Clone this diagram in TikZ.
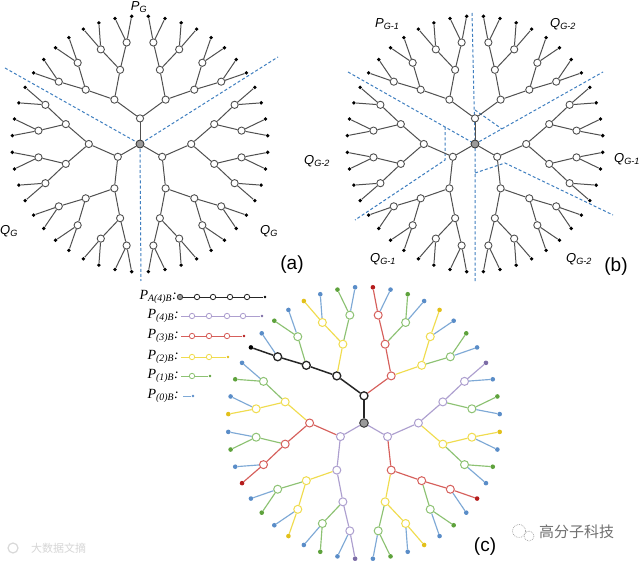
\documentclass[tikz,border=0pt]{standalone}
\usepackage{fontspec}
\setmainfont{Liberation Serif}
\setsansfont{Liberation Sans}
\newfontfamily\cjkfont{Noto Sans CJK SC}
\usetikzlibrary{calc}
\definecolor{treeline}{HTML}{505050}
\definecolor{coregray}{HTML}{9A9A9A}
\definecolor{coreedge}{HTML}{3C3C3C}
\definecolor{dashblue}{HTML}{3F7FC0}
\definecolor{lnA}{HTML}{262626}\definecolor{dtA}{HTML}{000000}
\definecolor{ln4}{HTML}{AD9FCF}\definecolor{dt4}{HTML}{7C6CA6}
\definecolor{ln3}{HTML}{D65F5B}\definecolor{dt3}{HTML}{B51C1C}
\definecolor{ln2}{HTML}{F0DC4E}\definecolor{dt2}{HTML}{E2C01A}
\definecolor{ln1}{HTML}{8DC273}\definecolor{dt1}{HTML}{5EA23C}
\definecolor{ln0}{HTML}{7EA9D6}\definecolor{dt0}{HTML}{5A8DC8}
\definecolor{wmgray}{HTML}{707070}
\tikzset{
  treeedge/.style={draw=treeline, line width=1pt},
  opennode/.style={circle, draw=treeline, fill=white, inner sep=0pt, minimum size=7.2pt, line width=0.9pt},
  leafnode/.style={circle, fill=black, inner sep=0pt, minimum size=3.8pt},
  corenode/.style={circle, draw=coreedge, fill=coregray, inner sep=0pt, minimum size=8pt, line width=0.9pt},
  ccore/.style={circle, draw=coreedge, fill=coregray, inner sep=0pt, minimum size=8.6pt, line width=1pt},
  ewA/.style={line width=1.5pt},
  owA/.style={line width=1.3pt},
  copen/.style={circle, draw=ln#1, fill=white, inner sep=0pt, minimum size=8pt, line width=1pt, ow#1/.try},
  cleaf/.style={circle, fill=dt#1, inner sep=0pt, minimum size=4.6pt},
  cedge/.style={draw=ln#1, line width=1.15pt, ew#1/.try},
  lgopen/.style={circle, draw=ln#1, fill=white, inner sep=0pt, minimum size=5.4pt, line width=0.8pt},
  lgcore/.style={circle, draw=coreedge, fill=coregray, inner sep=0pt, minimum size=5.4pt, line width=0.8pt},
  lgdot/.style={circle, fill=dt#1, inner sep=0pt, minimum size=2.8pt},
  lgedge/.style={draw=ln#1, line width=0.9pt},
  lgtext/.style={font=\itshape\fontsize{14}{14}\selectfont, inner sep=0pt, anchor=east},
  bound/.style={draw=dashblue, dash pattern=on 3pt off 2.2pt, line width=1pt},
  lbl/.style={font=\sffamily\itshape\fontsize{13}{13}\selectfont, inner sep=0pt},
  panel/.style={font=\sffamily\fontsize{19}{19}\selectfont, inner sep=0pt},
}
\def\tzarr{{9,0,1,0,2,0,1,0,3,0,1,0,2,0,1,0}}
\newcommand\dendro[5]{%
  \ifnum#5=1 \node[ccore] (#1-core) at (#2,#3) {};\else\node[corenode] (#1-core) at (#2,#3) {};\fi
  \foreach \br in {0,1,2}{%
    \foreach \lv in {1,...,5}{%
      \pgfmathtruncatemacro\mx{2^(\lv-1)-1}%
      \pgfmathtruncatemacro\nn{2^(5-\lv)}%
      \foreach \ix in {0,...,\mx}{%
        \pgfmathsetmacro\ang{90+120*\br+56.25-7.5*(\ix*\nn+(\nn-1)/2)}%
        \pgfmathsetmacro\rad{\lv*#4}%
        \pgfmathtruncatemacro\tz{\tzarr[\ix]}%
        \pgfmathtruncatemacro\plen{min(4,5-\lv+\tz)}%
        \ifnum\lv=1 \def\parnode{#1-core}\else
          \pgfmathtruncatemacro\pk{\lv-1}%
          \pgfmathtruncatemacro\pidx{floor(\ix/2)}%
          \edef\parnode{#1-\br-\pk-\pidx}\fi
        \ifnum#5=1
          \edef\pcol{\ifnum\plen=4 \ifnum\br=0 A\else 4\fi\else\plen\fi}%
          \ifnum\lv=5
            \node[cleaf=\pcol] (#1-\br-\lv-\ix) at ($(#1-core.center)+(\ang:\rad pt)$) {};%
          \else
            \node[copen=\pcol] (#1-\br-\lv-\ix) at ($(#1-core.center)+(\ang:\rad pt)$) {};%
          \fi
          \draw[cedge=\pcol] (\parnode) -- (#1-\br-\lv-\ix);%
        \else
          \ifnum\lv=5
            \node[leafnode] (#1-\br-\lv-\ix) at ($(#1-core.center)+(\ang:\rad pt)$) {};%
          \else
            \node[opennode] (#1-\br-\lv-\ix) at ($(#1-core.center)+(\ang:\rad pt)$) {};%
          \fi
          \draw[treeedge] (\parnode) -- (#1-\br-\lv-\ix);%
        \fi
      }}}}
\begin{document}
\begin{tikzpicture}[x=1pt,y=-1pt]
\fill[white] (0,0) rectangle (640,561);
\useasboundingbox (0,0) rectangle (640,561);
% ---------- panel (a) boundaries
\coordinate (ac) at (140,144);
\coordinate (a-ul) at (5,68);
\coordinate (a-ur) at (278,57);
\coordinate (a-bt) at (141,281);
\draw[bound] (a-ul) -- (ac) -- (a-ur);
\draw[bound] (ac) -- (a-bt);
% ---------- panel (b) boundaries
\coordinate (bc) at (475,144);
\coordinate (b-top) at (472,13);
\coordinate (b-bot) at (475,282);
\coordinate (b-ul) at (348,72);
\coordinate (b-lk1) at (445,127);
\coordinate (b-lk2) at (445,160);
\coordinate (b-ll) at (355,220);
\coordinate (b-ur) at (603,72);
\coordinate (b-uk1) at (475,110);
\coordinate (b-uk2) at (502,129);
\coordinate (b-rk1) at (475,173);
\coordinate (b-rk2) at (505,163);
\coordinate (b-lr) at (613,215);
\draw[bound] (b-top) -- (bc) -- (b-bot);
\draw[bound] (b-ul) -- (bc) -- (b-ur);
\draw[bound] (b-lk1) -- (b-lk2) -- (b-ll);
\draw[bound] (b-uk1) -- (b-uk2);
\draw[bound] (b-rk1) -- (b-rk2) -- (b-lr);
% ---------- trees
\dendro{ta}{140}{144}{25.6}{0}
\dendro{tb}{475}{144}{25.6}{0}
\dendro{tc}{364}{423}{27.2}{1}
% ---------- labels (a)
\node[lbl] (lab-pg) at (139,7) {P\textsubscript{G}};
\node[lbl, anchor=west] (lab-qg1) at (0,231) {Q\textsubscript{G}};
\node[lbl, anchor=west] (lab-qg2) at (260,231) {Q\textsubscript{G}};
\node[panel] (lab-a) at (292,265) {(a)};
% ---------- labels (b)
\node[lbl, anchor=west] (lab-pg1) at (375,24) {P\textsubscript{G-1}};
\node[lbl, anchor=west] (lab-qb1) at (550,24) {Q\textsubscript{G-2}};
\node[lbl, anchor=west] (lab-qb2) at (304,161) {Q\textsubscript{G-2}};
\node[lbl, anchor=west] (lab-qb3) at (614,159) {Q\textsubscript{G-1}};
\node[lbl, anchor=west] (lab-qb4) at (370,259) {Q\textsubscript{G-1}};
\node[lbl, anchor=west] (lab-qb5) at (566,259) {Q\textsubscript{G-2}};
\node[panel] (lab-b) at (616,267) {(b)};
% ---------- legend (c)
\node[lgtext] (lg-t1) at (177,297) {P\textsubscript{A(4)B}:};
\node[lgcore] (lg-1-0) at (180,297) {};
\node[lgopen=A] (lg-1-1) at (197,297) {};
\node[lgopen=A] (lg-1-2) at (213,297) {};
\node[lgopen=A] (lg-1-3) at (230,297) {};
\node[lgopen=A] (lg-1-4) at (247,297) {};
\node[lgdot=A] (lg-1-5) at (265,297) {};
\draw[lgedge=A] (lg-1-0) -- (lg-1-1) -- (lg-1-2) -- (lg-1-3) -- (lg-1-4) -- (lg-1-5);
\node[lgtext] (lg-t2) at (179,316) {P\textsubscript{(4)B}:};
\coordinate (lg-2-0) at (181,316);
\node[lgopen=4] (lg-2-1) at (192,316) {};
\node[lgopen=4] (lg-2-2) at (209,316) {};
\node[lgopen=4] (lg-2-3) at (227,316) {};
\node[lgopen=4] (lg-2-4) at (243,316) {};
\node[lgdot=4] (lg-2-5) at (262,316) {};
\draw[lgedge=4] (lg-2-0) -- (lg-2-1) -- (lg-2-2) -- (lg-2-3) -- (lg-2-4) -- (lg-2-5);
\node[lgtext] (lg-t3) at (179,336) {P\textsubscript{(3)B}:};
\coordinate (lg-3-0) at (181,336);
\node[lgopen=3] (lg-3-1) at (192,336) {};
\node[lgopen=3] (lg-3-2) at (209,336) {};
\node[lgopen=3] (lg-3-3) at (227,336) {};
\node[lgdot=3] (lg-3-4) at (244,336) {};
\draw[lgedge=3] (lg-3-0) -- (lg-3-1) -- (lg-3-2) -- (lg-3-3) -- (lg-3-4);
\node[lgtext] (lg-t4) at (179,357) {P\textsubscript{(2)B}:};
\coordinate (lg-4-0) at (181,357);
\node[lgopen=2] (lg-4-1) at (192,357) {};
\node[lgopen=2] (lg-4-2) at (209,357) {};
\node[lgdot=2] (lg-4-3) at (228,357) {};
\draw[lgedge=2] (lg-4-0) -- (lg-4-1) -- (lg-4-2) -- (lg-4-3);
\node[lgtext] (lg-t5) at (179,376) {P\textsubscript{(1)B}:};
\coordinate (lg-5-0) at (181,376);
\node[lgopen=1] (lg-5-1) at (192,376) {};
\node[lgdot=1] (lg-5-2) at (210,376) {};
\draw[lgedge=1] (lg-5-0) -- (lg-5-1) -- (lg-5-2);
\node[lgtext] (lg-t6) at (179,396) {P\textsubscript{(0)B}:};
\coordinate (lg-6-0) at (183,396);
\node[lgdot=0] (lg-6-1) at (193,396) {};
\draw[lgedge=0] (lg-6-0) -- (lg-6-1);
\node[panel] (lab-c) at (485,547) {(c)};
% ---------- watermarks
\draw[wmgray!70, dash pattern=on 0.8pt off 1pt, line width=0.6pt] (519,531) circle (6.5);
\draw[wmgray!70, dash pattern=on 0.8pt off 1pt, line width=0.6pt] (529,536) circle (5);
\node[font=\cjkfont\fontsize{15}{15}\selectfont, text=wmgray, anchor=west, inner sep=0pt] (wm1) at (539,532) {高分子科技};
\draw[black!15, line width=1.2pt] (13,548) circle (5);
\node[font=\cjkfont\fontsize{11}{11}\selectfont, text=black!16, anchor=west, inner sep=0pt] (wm2) at (31,548) {大数据文摘};
\end{tikzpicture}
\end{document}
